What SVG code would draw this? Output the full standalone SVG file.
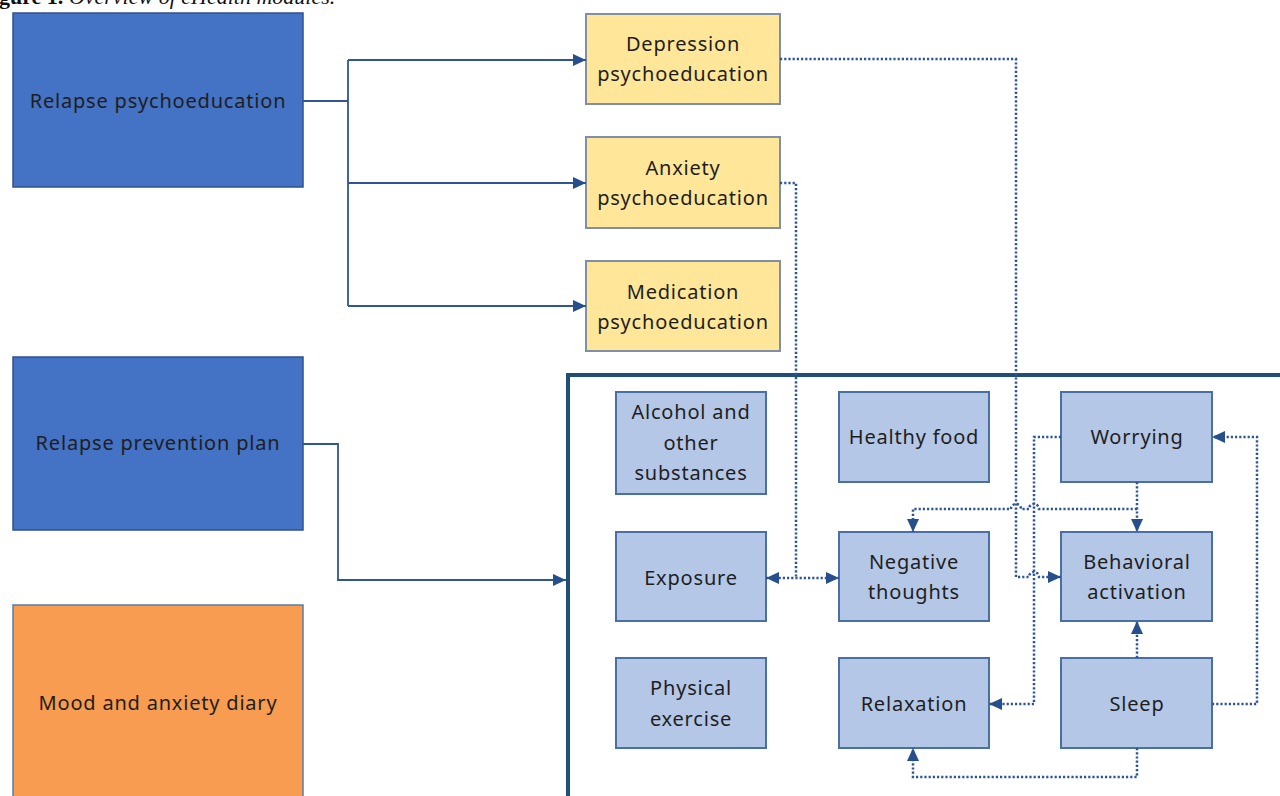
<svg xmlns="http://www.w3.org/2000/svg" width="1280" height="796" viewBox="0 0 1280 796">
<style>
.t{font-family:"Noto Sans","Liberation Sans",sans-serif;font-size:20px;letter-spacing:0.8px;fill:#1e1e1e;text-anchor:middle}
.dark{fill:#4472C4;stroke:#2F528F;stroke-width:1.5}
.orange{fill:#F79C50;stroke:#5B7BA8;stroke-width:1.5}
.yellow{fill:#FFE699;stroke:#7F8FA6;stroke-width:2}
.light{fill:#B4C7E7;stroke:#4A6FA5;stroke-width:2}
.solid{fill:none;stroke:#2F5597;stroke-width:1.8}
.dot{fill:none;stroke:#2F5597;stroke-width:2.5;stroke-dasharray:2.2 2}
</style>
<defs>
<marker id="arr" viewBox="0 0 13 12" refX="13" refY="6" markerWidth="13" markerHeight="12" markerUnits="userSpaceOnUse" orient="auto-start-reverse">
<path d="M0,0 L13,6 L0,12 z" fill="#264F8C"/>
</marker>
</defs>
<rect width="1280" height="796" fill="#ffffff"/>
<text x="-1" y="4" font-family="'Liberation Serif',serif" font-size="22" fill="#111"><tspan font-weight="bold">gure 1.</tspan><tspan font-style="italic"> Overview of eHealth modules.</tspan></text>

<g id="container"><rect x="568" y="375" width="760" height="480" fill="none" stroke="#1F4E79" stroke-width="4"/></g>

<g id="relapse-psychoeducation"><rect class="dark" x="13" y="13" width="290" height="174"/><text class="t" x="158" y="108">Relapse psychoeducation</text></g>
<g id="relapse-prevention-plan"><rect class="dark" x="13" y="357" width="290" height="173"/><text class="t" x="158" y="450">Relapse prevention plan</text></g>
<g id="mood-diary"><rect class="orange" x="13" y="605" width="290" height="220"/><text class="t" x="158" y="710">Mood and anxiety diary</text></g>

<g id="depression"><rect class="yellow" x="586" y="14" width="194" height="90"/><text class="t" x="683" y="51">Depression</text><text class="t" x="683" y="81">psychoeducation</text></g>
<g id="anxiety"><rect class="yellow" x="586" y="137" width="194" height="91"/><text class="t" x="683" y="175">Anxiety</text><text class="t" x="683" y="205">psychoeducation</text></g>
<g id="medication"><rect class="yellow" x="586" y="261" width="194" height="90"/><text class="t" x="683" y="299">Medication</text><text class="t" x="683" y="329">psychoeducation</text></g>

<g id="alcohol"><rect class="light" x="616" y="392" width="150" height="102"/><text class="t" x="691" y="419">Alcohol and</text><text class="t" x="691" y="450">other</text><text class="t" x="691" y="480">substances</text></g>
<g id="healthy-food"><rect class="light" x="839" y="392" width="150" height="90"/><text class="t" x="914" y="444">Healthy food</text></g>
<g id="worrying"><rect class="light" x="1061" y="392" width="151" height="90"/><text class="t" x="1137" y="444">Worrying</text></g>
<g id="exposure"><rect class="light" x="616" y="532" width="150" height="89"/><text class="t" x="691" y="585">Exposure</text></g>
<g id="negative-thoughts"><rect class="light" x="839" y="532" width="150" height="89"/><text class="t" x="914" y="569">Negative</text><text class="t" x="914" y="599">thoughts</text></g>
<g id="behavioral-activation"><rect class="light" x="1061" y="532" width="151" height="89"/><text class="t" x="1137" y="569">Behavioral</text><text class="t" x="1137" y="599">activation</text></g>
<g id="physical-exercise"><rect class="light" x="616" y="658" width="150" height="90"/><text class="t" x="691" y="695">Physical</text><text class="t" x="691" y="726">exercise</text></g>
<g id="relaxation"><rect class="light" x="839" y="658" width="150" height="90"/><text class="t" x="914" y="711">Relaxation</text></g>
<g id="sleep"><rect class="light" x="1061" y="658" width="151" height="90"/><text class="t" x="1137" y="711">Sleep</text></g>

<g id="connectors">
<path class="solid" d="M303,101 H348 M348,60 V306"/>
<path class="solid" d="M348,60 H586" marker-end="url(#arr)"/>
<path class="solid" d="M348,183 H586" marker-end="url(#arr)"/>
<path class="solid" d="M348,306 H586" marker-end="url(#arr)"/>
<path class="solid" d="M303,444 H338 V580 H566" marker-end="url(#arr)"/>

<path class="dot" d="M780,59 H1016 V577 H1029 A5,5 0 0 1 1039,577 H1061" marker-end="url(#arr)"/>
<path class="dot" d="M780,183 H796 V578"/>
<path class="dot" d="M766,578 H839" marker-start="url(#arr)" marker-end="url(#arr)"/>
<path class="dot" d="M1137,482 V532" marker-end="url(#arr)"/>
<path class="dot" d="M1137,509 H1039 A5,5 0 0 0 1029,509 H1021 A5,5 0 0 0 1011,509 H913 V532" marker-end="url(#arr)"/>
<path class="dot" d="M1137,658 V621" marker-end="url(#arr)"/>
<path class="dot" d="M1212,704 H1257 V437 H1212" marker-end="url(#arr)"/>
<path class="dot" d="M1137,748 V777 H913 V748" marker-end="url(#arr)"/>
<path class="dot" d="M1061,437 H1034 V704 H989" marker-end="url(#arr)"/>
</g>
</svg>
